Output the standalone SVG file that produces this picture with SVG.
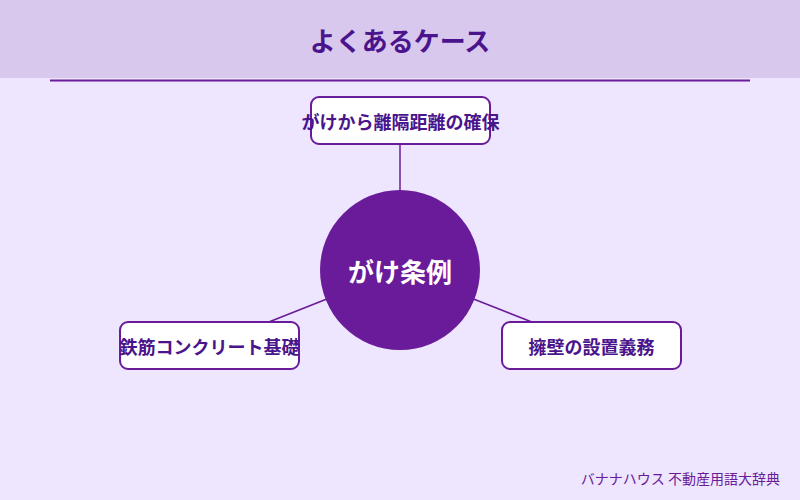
<svg xmlns="http://www.w3.org/2000/svg" width="800" height="500" viewBox="0 0 800 500">
<style>
.t{font-family:"Noto Sans CJK JP","Noto Sans",sans-serif;}
.box{fill:#ffffff;stroke:#6a1b9a;stroke-width:2;}
.lbl{font-size:18px;font-weight:bold;fill:#4a148c;text-anchor:middle;dominant-baseline:central;}
.con{stroke:#6a1b9a;stroke-width:1.5;fill:none;}
</style>
<rect x="0" y="0" width="800" height="500" fill="#ede6fe"/>
<rect x="0" y="0" width="800" height="78" fill="#d9c8ee"/>
<text class="t" x="400" y="39" font-size="26" font-weight="bold" fill="#4a148c" text-anchor="middle" dominant-baseline="central">よくあるケース</text>
<line x1="50" y1="80.5" x2="750" y2="80.5" stroke="#6a1b9a" stroke-width="2"/>
<g id="connectors">
<line class="con" x1="400" y1="270" x2="400" y2="120.5"/>
<line class="con" x1="400" y1="270" x2="209.5" y2="345.5"/>
<line class="con" x1="400" y1="270" x2="591.5" y2="345.5"/>
</g>
<g id="center">
<circle cx="400" cy="270" r="80" fill="#6a1b9a"/>
<text class="t" x="400" y="270" font-size="26" font-weight="bold" fill="#ffffff" text-anchor="middle" dominant-baseline="central">がけ条例</text>
</g>
<g id="node-top">
<rect class="box" x="311" y="97" width="179" height="47" rx="8"/>
<text class="t lbl" x="400.5" y="120.5">がけから離隔距離の確保</text>
</g>
<g id="node-left">
<rect class="box" x="120" y="322" width="179" height="47" rx="8"/>
<text class="t lbl" x="209.5" y="345.5">鉄筋コンクリート基礎</text>
</g>
<g id="node-right">
<rect class="box" x="502" y="322" width="179" height="47" rx="8"/>
<text class="t lbl" x="591.5" y="345.5">擁壁の設置義務</text>
</g>
<text class="t" x="780" y="478" font-size="14" fill="#6a1b9a" text-anchor="end" dominant-baseline="central">バナナハウス 不動産用語大辞典</text>
</svg>
